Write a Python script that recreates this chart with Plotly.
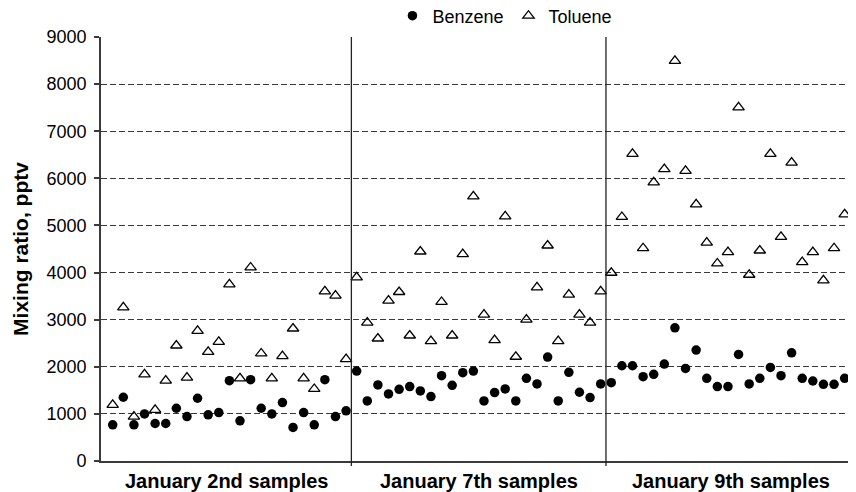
import plotly.graph_objects as go

# ---- data ----
group_labels = ["January 2nd samples", "January 7th samples", "January 9th samples"]

benzene_jan2 = [768, 1353, 768, 1000, 796, 796, 1120, 944, 1332, 980, 1029, 1705,
                853, 1727, 1120, 1000, 1240, 712, 1029, 768, 1727, 944, 1064]
toluene_jan2 = [1191, 3263, 944, 1839, 1085, 1705, 2452, 1769, 2762, 2318, 2530, 3749,
                1755, 4108, 2283, 1755, 2227, 2812, 1755, 1529, 3601, 3509, 2163]

benzene_jan7 = [1910, 1276, 1614, 1424, 1522, 1579, 1487, 1367, 1811, 1607, 1875, 1910,
                1276, 1452, 1529, 1276, 1755, 1635, 2206, 1276, 1882, 1459, 1346, 1635]
toluene_jan7 = [3897, 2939, 2600, 3404, 3587, 2664, 4447, 2544, 3376, 2664, 4390, 5617,
                3108, 2565, 5194, 2213, 3002, 3686, 4574, 2544, 3531, 3108, 2939, 3601]

benzene_jan9 = [1663, 2022, 2022, 1790, 1839, 2058, 2826, 1966, 2354, 1755, 1579, 1579,
                2262, 1635, 1755, 1987, 1811, 2297, 1755, 1698, 1628, 1628, 1755, 1790]
toluene_jan9 = [3996, 5180, 6519, 4517, 5913, 6195, 8492, 6159, 5447, 4637, 4193, 4433,
                7505, 3953, 4468, 6519, 4757, 6335, 4221, 4433, 3834, 4517, 5236, 8534]

y_ticks = [0, 1000, 2000, 3000, 4000, 5000, 6000, 7000, 8000, 9000]

benzene = benzene_jan2 + benzene_jan7 + benzene_jan9
toluene = toluene_jan2 + toluene_jan7 + toluene_jan9
sample_index = list(range(len(benzene)))

n1 = len(benzene_jan2)
n2 = len(benzene_jan7)
sep1 = n1 - 0.5
sep2 = n1 + n2 - 0.5

x_min, x_max = -1.103, 70.07
group_centers = [(x_min + sep1) / 2, (sep1 + sep2) / 2, (sep2 + x_max) / 2]

AXIS = "#3a3a3a"
FONT = "Liberation Sans, Arial, sans-serif"

fig = go.Figure()
fig.add_trace(go.Scatter(
    x=sample_index, y=benzene, mode="markers", name="Benzene",
    marker=dict(symbol="circle", size=9.5, color="black"),
))
fig.add_trace(go.Scatter(
    x=sample_index, y=toluene, mode="markers", name="Toluene",
    marker=dict(symbol="triangle-up-open", size=10, color="black",
                line=dict(width=1.3, color="black")),
))

for s in (sep1, sep2):
    fig.add_shape(type="line", xref="x", yref="paper", x0=s, x1=s, y0=-0.012, y1=1,
                  line=dict(color="#222222", width=1.3))

for cx, label in zip(group_centers, group_labels):
    fig.add_annotation(x=cx, xref="x", y=0, yref="paper", yanchor="top",
                       yshift=-7, text=label, showarrow=False,
                       font=dict(size=20, family=FONT, weight="bold", color="black"))

# the page body adds an 8px offset, so the figure is 8px smaller than the window
fig.update_layout(
    width=848, height=484,
    margin=dict(l=93, r=0, t=29, b=31, autoexpand=False),
    paper_bgcolor="white", plot_bgcolor="white",
    font=dict(family=FONT, color="black", size=18),
    showlegend=True,
    legend=dict(orientation="h", xref="paper", yref="paper",
                x=0.535, y=1.0495, xanchor="center", yanchor="middle",
                font=dict(size=18), bgcolor="rgba(0,0,0,0)", itemclick=False),
    xaxis=dict(range=[x_min, x_max], showgrid=False, zeroline=False,
               showline=True, linecolor=AXIS, linewidth=1.5,
               showticklabels=False, ticks=""),
    yaxis=dict(range=[0, 9000], tickmode="array", tickvals=y_ticks,
               ticktext=[str(v) for v in y_ticks],
               showgrid=True, gridcolor=AXIS, gridwidth=1.3, griddash="6px,3px",
               zeroline=False, showline=True, linecolor=AXIS, linewidth=1.8,
               ticks="outside", ticklen=5, tickcolor=AXIS, tickwidth=1.5,
               tickfont=dict(size=18), ticklabelstandoff=4,
               title=dict(text="Mixing ratio, pptv", standoff=12,
                          font=dict(size=21, family=FONT, weight="bold"))),
)

fig.write_html("out.html")
